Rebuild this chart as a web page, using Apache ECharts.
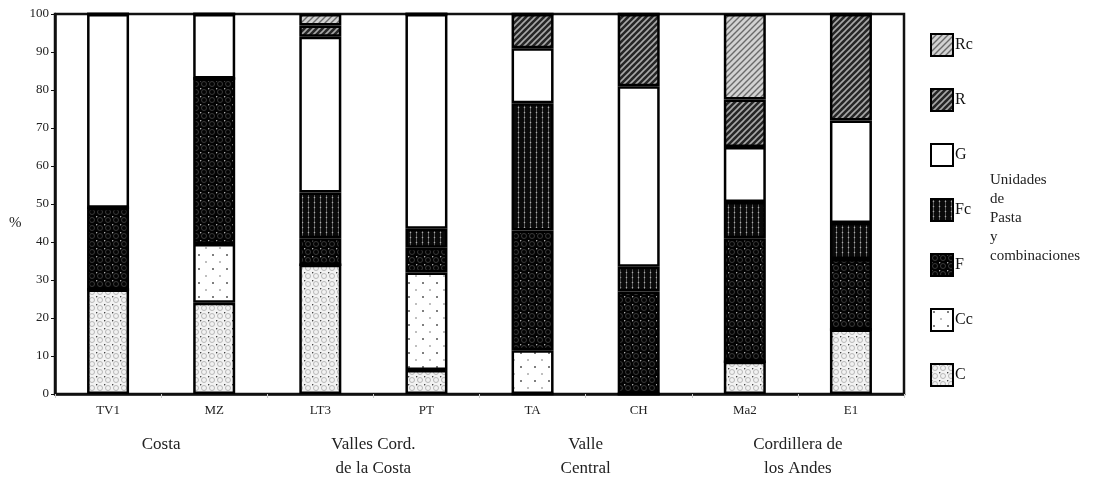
<!DOCTYPE html>
<html>
<head>
<meta charset="utf-8">
<script src="https://cdn.jsdelivr.net/npm/echarts@6/dist/echarts.min.js"></script>
<style>html,body{margin:0;padding:0;background:#fff}#c{width:1109px;height:478px}</style>
</head>
<body>
<div id="c"></div>
<script>
const categories = ['TV1','MZ','LT3','PT','TA','CH','Ma2','E1'];
const groups = ['Costa','Valles Cord.\nde la Costa','Valle\nCentral','Cordillera de\nlos Andes'];
const yTicks = [0,10,20,30,40,50,60,70,80,90,100];
const C  = [27.5, 24,   34,  6.3, 0,    0,    8.5, 17];
const Cc = [0,    15.5, 0,   25.7, 11.5, 0,    0,   0];
const F  = [21.5, 43.5, 7,   6.5, 31.5, 27,   32.5, 18.5];
const Fc = [0,    0,    12,  5,   33.5, 6.5,  9.5, 9.5];
const G  = [51,   17,   41,  56.5, 14.5, 47.5, 14.5, 27];
const R  = [0,    0,    3,   0,   9,    19,   12.5, 28];
const Rc = [0,    0,    3,   0,   0,    0,    22.5, 0];
const seriesNames = ['C','Cc','F','Fc','G','R','Rc'];
const legendOrder = ['Rc','R','G','Fc','F','Cc','C'];
const sideText = 'Unidades\nde\nPasta\ny\ncombinaciones';

function tile(w, h, draw){
  const cv = document.createElement('canvas');
  cv.width = w; cv.height = h;
  const ctx = cv.getContext('2d');
  draw(ctx, w, h);
  return {image: cv, repeat: 'repeat'};
}
function dot(ctx, x, y, r, col){ctx.fillStyle=col;ctx.beginPath();ctx.arc(x,y,r,0,Math.PI*2);ctx.fill();}
const patC = tile(8,8,(ctx,w,h)=>{
  ctx.fillStyle='#f2f2f2';ctx.fillRect(0,0,w,h);
  ctx.strokeStyle='#b8b8b8';ctx.lineWidth=1;ctx.beginPath();ctx.arc(4,4,2.5,0,Math.PI*2);ctx.stroke();
  dot(ctx,0.5,0.5,0.9,'#444');
});
const patCc = tile(14,14,(ctx,w,h)=>{
  ctx.fillStyle='#fff';ctx.fillRect(0,0,w,h);
  dot(ctx,3,3,1,'#555');dot(ctx,10,10,1,'#aaa');
});
const patF = tile(8,8,(ctx,w,h)=>{
  ctx.fillStyle='#030303';ctx.fillRect(0,0,w,h);
  ctx.strokeStyle='#3a3a3a';ctx.lineWidth=1;ctx.beginPath();ctx.arc(4,4,2.5,0,Math.PI*2);ctx.stroke();
  dot(ctx,0.5,0.5,0.9,'#aaa');
});
const patFc = tile(6,5,(ctx,w,h)=>{
  ctx.fillStyle='#0a0a0a';ctx.fillRect(0,0,w,h);
  ctx.fillStyle='#555';ctx.fillRect(2,0,1,h);
  dot(ctx,2.5,2.5,0.8,'#aaa');
});
const patG = '#ffffff';
function hatch(bg, fg, lw){
  return tile(6,6,(ctx,w,h)=>{
    ctx.fillStyle=bg;ctx.fillRect(0,0,w,h);
    ctx.strokeStyle=fg;ctx.lineWidth=lw;
    ctx.beginPath();
    ctx.moveTo(-1,h+1);ctx.lineTo(w+1,-1);
    ctx.moveTo(-1,1);ctx.lineTo(1,-1);
    ctx.moveTo(w-1,h+1);ctx.lineTo(w+1,h-1);
    ctx.stroke();
  });
}
const patR = hatch('#262626','#a8a8a8',1.6);
const patRc = hatch('#d2d2d2','#6a6a6a',1.4);

const dataMap = {C, Cc, F, Fc, G, R, Rc};
const fills = {C: patC, Cc: patCc, F: patF, Fc: patFc, G: patG, R: patR, Rc: patRc};

const series = seriesNames.map(n => ({
  name: n, type: 'bar', stack: 'all', barWidth: 42,
  data: dataMap[n],
  itemStyle: {color: fills[n], borderColor: '#000', borderWidth: 2.5},
  emphasis: {disabled: true}
}));

const font = 'Liberation Serif, Times New Roman, serif';
const chart = echarts.init(document.getElementById('c'), null, {renderer: 'canvas'});
chart.setOption({
  animation: false,
  backgroundColor: '#fff',
  grid: {left: 55, top: 14, right: 205, bottom: 84, outerBoundsMode: 'none', containLabel: false,
         show: true, borderColor: '#111', borderWidth: 2.5, backgroundColor: 'transparent'},
  legend: {
    data: legendOrder.map(n => ({name: n, icon: 'rect'})), orient: 'vertical', left: 930, top: 33, padding: 0,
    itemWidth: 22, itemHeight: 22, itemGap: 31,
    textStyle: {fontFamily: font, fontSize: 16, color: '#111', padding: [0,0,0,-3]},
    selectedMode: false
  },
  xAxis: [{
    type: 'category', data: categories,
    axisLine: {lineStyle: {color: '#111', width: 2.5}},
    axisTick: {show: true, alignWithLabel: false, length: 4, lineStyle: {color: '#ccc'}},
    axisLabel: {fontFamily: font, fontSize: 13, color: '#222', margin: 10}
  },{
    type: 'category', data: groups, position: 'bottom', offset: 31,
    axisLine: {show: false}, axisTick: {show: false},
    axisLabel: {fontFamily: font, fontSize: 17, color: '#222', lineHeight: 24, verticalAlign: 'top'}
  }],
  yAxis: {
    type: 'value', min: 0, max: 100, interval: 10,
    axisLine: {show: true, lineStyle: {color: '#111', width: 2.5}},
    axisTick: {show: true, length: 4, lineStyle: {color: '#111'}},
    axisLabel: {fontFamily: font, fontSize: 13, color: '#222', margin: 6, formatter: v => yTicks.includes(v) ? String(v) : ''},
    splitLine: {show: false}
  },
  graphic: [{
    type: 'text', left: 990, top: 171,
    style: {text: sideText, font: '15px ' + font, fill: '#222', lineHeight: 19}
  },{
    type: 'text', left: 9, top: 216,
    style: {text: '%', font: '15px ' + font, fill: '#222'}
  }],
  series
});
</script>
</body>
</html>
